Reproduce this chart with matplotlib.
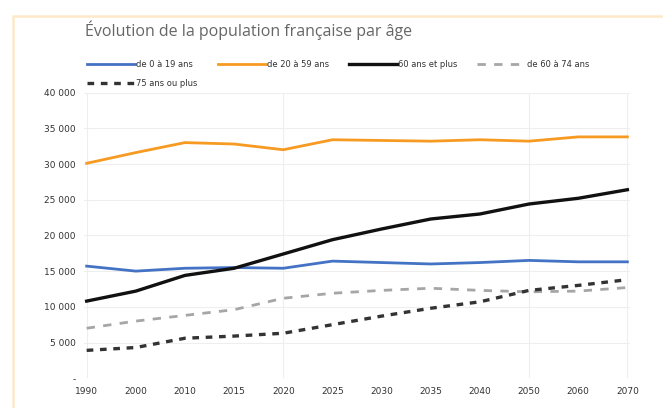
import numpy as np
import matplotlib.pyplot as plt
from matplotlib.patches import Rectangle

years = ['1990', '2000', '2010', '2015', '2020', '2025', '2030', '2035', '2040', '2050', '2060', '2070']
age_0_19 = [15700, 15000, 15400, 15500, 15400, 16400, 16200, 16000, 16200, 16500, 16300, 16300]
age_20_59 = [30100, 31600, 33000, 32800, 32000, 33400, 33300, 33200, 33400, 33200, 33800, 33800]
age_60_plus = [10800, 12200, 14400, 15400, 17400, 19400, 20900, 22300, 23000, 24400, 25200, 26400]
age_60_74 = [7000, 8000, 8800, 9600, 11200, 11900, 12300, 12600, 12300, 12100, 12200, 12700]
age_75_plus = [3900, 4300, 5600, 5900, 6300, 7500, 8700, 9800, 10700, 12300, 13000, 13800]
y_ticks = [0, 5000, 10000, 15000, 20000, 25000, 30000, 35000, 40000]
y_labels = ['-', '5 000', '10 000', '15 000', '20 000', '25 000', '30 000', '35 000', '40 000']

fig = plt.figure(figsize=(6.63, 4.08), dpi=100)
fig.patches.append(Rectangle((0.019, -0.02), 1.0, 0.98, transform=fig.transFigure,
                             fill=False, edgecolor='#fde9c8', linewidth=1.8))
ax = fig.add_axes([0.127, 0.073, 0.823, 0.70])

x = np.arange(len(years))
h0, = ax.plot(x, age_0_19, color='#4472c4', lw=2, label='de 0 à 19 ans')
h1, = ax.plot(x, age_20_59, color='#f79a22', lw=2, label='de 20 à 59 ans')
h2, = ax.plot(x, age_60_plus, color='#111111', lw=2.4, label='60 ans et plus')
h3, = ax.plot(x, age_60_74, color='#a6a6a6', lw=2, ls=(0, (3, 3)), label='de 60 à 74 ans')
h4, = ax.plot(x, age_75_plus, color='#333333', lw=2.4, ls=(0, (2, 2)), label='75 ans ou plus')

ax.set_ylim(0, 40000)
ax.set_xlim(-0.05, len(years) - 0.95)
ax.set_yticks(y_ticks)
ax.set_yticklabels(y_labels, fontsize=6.5, color='#333333')
ax.set_xticks(x)
ax.set_xticklabels(years, fontsize=6.5, color='#333333')
ax.grid(axis='y', color='#eeeeee', lw=0.8)
for xv in [0, 4, 9, 11]:
    ax.axvline(xv, color='#eeeeee', lw=0.8, zorder=0)
ax.tick_params(length=0, pad=6)
for s in ax.spines.values():
    s.set_visible(False)

fig.text(0.128, 0.912, 'Évolution de la population française par âge', fontsize=11.5, color='#666666',
         family='Open Sans')
handles = [h0, h4, h1, h2, h3]
leg = fig.legend(handles, [h.get_label() for h in handles], loc='upper left',
                 bbox_to_anchor=(0.12, 0.872), ncol=4, frameon=False,
                 fontsize=6, handlelength=5.8, columnspacing=2.4, handletextpad=0.1,
                 labelspacing=1.2)
for t in leg.get_texts():
    t.set_color('#333333')

fig.savefig('out.png', dpi=100)
